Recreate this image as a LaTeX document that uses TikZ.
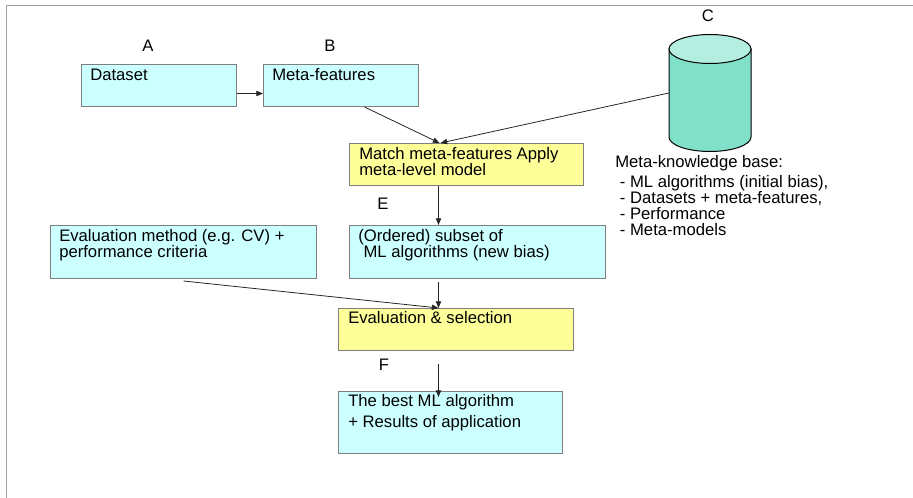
\documentclass[tikz,border=0pt]{standalone}
\usepackage{fontspec}
\setmainfont{Liberation Sans}
\usetikzlibrary{arrows.meta}
\definecolor{boxcyan}{HTML}{CCFFFF}
\definecolor{boxyellow}{HTML}{FFFF99}
\definecolor{cylbody}{HTML}{80E0C8}
\definecolor{cyltop}{HTML}{B3EEE0}
\definecolor{edgegray}{HTML}{7F7F7F}
\definecolor{framegray}{HTML}{A0A0A0}

\begin{document}
\begin{tikzpicture}[x=0.75pt, y=-0.75pt,
  font=\fontsize{12.5}{12}\selectfont,
  box/.style={draw=edgegray, line width=0.75pt, inner sep=0pt, anchor=north west},
  cyanbox/.style={box, fill=boxcyan},
  yellowbox/.style={box, fill=boxyellow},
  % multi-line texts are placed by the baseline of their last line
  txt/.style={anchor=base west, inner sep=0pt, align=left},
  tag/.style={anchor=base, inner sep=0pt},
  link/.style={draw=black!85, line width=0.6pt, -{Triangle[length=5pt,width=4pt]}},
]
\useasboundingbox (0,0) rectangle (913,498);

% outer frame (top and left edges only)
\draw[framegray, line width=0.75pt] (913,5.5) -- (6,5.5) -- (6,498);

% boxes
\node[cyanbox, minimum width=116.25pt, minimum height=31.5pt] (ds) at (81,64) {};
\node[cyanbox, minimum width=116.25pt, minimum height=31.5pt] (mf) at (263,64) {};
\node[yellowbox, minimum width=175.5pt, minimum height=31.5pt] (match) at (349,143) {};
\node[cyanbox, minimum width=199.5pt, minimum height=39.75pt] (evm) at (50,225) {};
\node[cyanbox, minimum width=192pt, minimum height=39.75pt] (sub) at (349,225) {};
\node[yellowbox, minimum width=176.25pt, minimum height=31.5pt] (evsel) at (338,308) {};
\node[cyanbox, minimum width=168pt, minimum height=46.5pt] (best) at (338,391) {};

% knowledge base cylinder
\node[inner sep=0pt, minimum width=61.5pt, minimum height=88.5pt] (kb) at (710,93) {};
\draw[fill=cylbody, line width=0.75pt] (669,49) -- (669,137)
  arc[start angle=180, end angle=360, x radius=30.75pt, y radius=10.875pt]
  -- (751,49) -- cycle;
\draw[fill=cyltop, line width=0.75pt] (710,49) ellipse[x radius=30.75pt, y radius=10.875pt];

% box texts
\node[txt] (tds) at (90,81) {Dataset};
\node[txt] (tmf) at (272,81) {Meta-features};
\node[txt] (tmatch) at (359,176) {Match meta-features Apply\\meta-level model};
\node[txt] (tevm) at (59,258) {Evaluation method (e.g. CV) +\\performance criteria};
\node[txt] (tsub) at (358,258) {(Ordered) subset of\\\hspace*{4pt}ML algorithms (new bias)};
\node[txt] (tevsel) at (348,324) {Evaluation \& selection};
\node[txt] (tbest) at (348,427) {The best ML algorithm\\[3.75pt]+ Results of application};
\node[txt] (tkb) at (615,236) {Meta-knowledge base:\\[3pt]
  \hspace*{3.5pt}- ML algorithms (initial bias),\\
  \hspace*{3.5pt}- Datasets + meta-features,\\
  \hspace*{3.5pt}- Performance\\
  \hspace*{3.5pt}- Meta-models};

% letter tags
\node[tag] (la) at (148,52) {A};
\node[tag] (lb) at (330,52) {B};
\node[tag] (lc) at (708,22) {C};
\node[tag] (le) at (383,210) {E};
\node[tag] (lf) at (384,371) {F};

% connectors
\draw[link] ([yshift=-6pt]ds.east) -- ([yshift=-6pt]mf.west);
\draw[link] ([xshift=17.6pt]mf.south) -- ([xshift=-20.25pt]match.north);
\draw[link] (kb.west) -- ([xshift=-19.5pt]match.north);
\draw[link] ([xshift=-21pt]match.south) -- ([xshift=-29.25pt]sub.north);
\draw[link] ([xshift=-29.25pt, yshift=-2pt]sub.south) -- ([xshift=-13.125pt]evsel.north);
\draw[link] ([yshift=-1.5pt]evm.south) -- ([xshift=-13.125pt]evsel.north);
\draw[link] ([xshift=-13.125pt, yshift=-9.75pt]evsel.south) -- ([xshift=-9pt, yshift=-4.5pt]best.north);
\end{tikzpicture}
\end{document}
